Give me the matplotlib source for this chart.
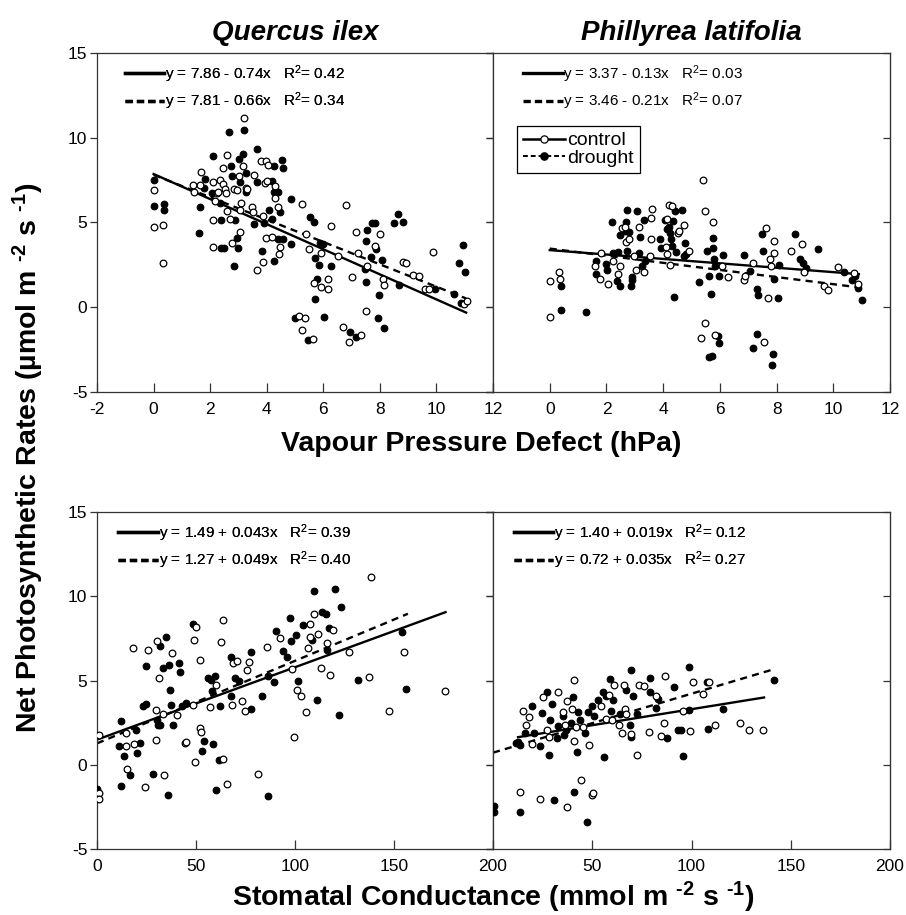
import matplotlib
matplotlib.use('Agg')
import matplotlib.pyplot as plt
from matplotlib.lines import Line2D
import numpy as np

plt.rcParams['font.family'] = ['Liberation Sans', 'DejaVu Sans']
plt.rcParams['mathtext.fontset'] = 'custom'
plt.rcParams['mathtext.rm'] = 'Liberation Sans'
plt.rcParams['mathtext.it'] = 'Liberation Sans:italic'
plt.rcParams['mathtext.bf'] = 'Liberation Sans:bold'
plt.rcParams['mathtext.sf'] = 'Liberation Sans'
plt.rcParams['axes.unicode_minus'] = False

# ---- data ----
# Quercus ilex vs VPD
qi_vpd_c_x = [0, 0, 0.34, 0.34, 1.40, 1.43, 1.64, 1.69, 2.10, 2.10, 2.11, 2.16, 2.23, 2.27, 2.35, 2.44, 2.47, 2.52, 2.58, 2.56,
              2.58, 2.70, 2.78, 2.85, 2.96, 3.01, 3.06, 3.06, 3.08, 3.15, 3.21, 3.25, 3.30, 3.47, 3.51, 3.56, 3.66, 3.80, 3.85, 3.88,
              3.93, 3.96, 3.96, 4.00, 4.06, 4.17, 4.29, 4.29, 4.40, 4.43, 4.47, 5.24, 5.14, 5.24, 5.35, 5.37, 5.49, 5.63, 5.66, 5.92,
              5.92, 6.15, 6.15, 6.28, 6.53, 6.68, 6.80, 6.92, 7.01, 7.17, 7.23, 7.32, 7.51, 7.54, 7.81, 8.01, 8.11, 8.13, 8.81, 8.93,
              9.17, 9.39, 9.60, 9.72, 9.89, 10.99, 11.07]
qi_vpd_c_y = [6.90, 4.73, 4.85, 2.60, 7.20, 6.80, 7.20, 7.99, 7.36, 5.15, 3.57, 6.27, 6.73, 6.77, 7.51, 8.19, 7.26, 6.96, 8.97, 6.71,
              5.68, 5.23, 3.81, 6.96, 6.90, 7.75, 5.72, 4.44, 6.17, 8.34, 11.14, 7.06, 6.96, 5.94, 5.64, 7.81, 2.17, 8.60, 2.66, 5.38,
              7.32, 8.64, 4.10, 7.46, 8.38, 4.14, 7.16, 6.43, 5.94, 3.12, 3.57, 6.11, -0.53, -1.32, -0.63, 4.34, 3.45, -1.85, 1.44, 1.20,
              3.18, 1.68, 1.08, 4.79, 3.02, -1.16, 6.04, -2.05, 1.78, 4.46, 3.18, -1.62, -0.24, 2.43, 3.61, 4.34, 1.64, 1.30, 2.66, 2.62,
              1.93, 1.87, 1.05, 1.08, 3.25, 0.22, 0.36]
qi_vpd_d_x = [0, 0, 0.35, 0.35, 1.62, 1.64, 1.77, 1.80, 2.09, 2.08, 2.34, 2.40, 2.40, 2.50, 2.66, 2.75, 2.76, 2.85, 2.89, 2.96,
              2.99, 3.01, 3.04, 3.16, 3.21, 3.26, 3.27, 3.55, 3.66, 3.64, 3.83, 3.90, 4.07, 4.18, 4.18, 4.26, 4.27, 4.27, 4.38, 4.41,
              4.47, 4.55, 4.57, 4.59, 4.86, 4.85, 5.01, 5.47, 5.54, 5.66, 5.71, 5.71, 5.78, 5.85, 5.88, 6.00, 6.02, 6.27, 6.96, 7.17,
              7.49, 7.52, 7.52, 7.54, 7.67, 7.73, 7.84, 7.87, 7.93, 7.97, 8.08, 8.13, 8.51, 8.67, 8.65, 8.80, 9.96, 10.63, 10.79, 10.85,
              10.94, 11.02]
qi_vpd_d_y = [7.51, 5.98, 6.07, 5.74, 4.40, 5.92, 7.02, 7.55, 8.93, 6.71, 6.17, 5.15, 3.51, 3.51, 10.32, 8.34, 7.75, 2.43, 5.15, 4.10,
              3.51, 8.74, 7.36, 9.03, 10.45, 7.91, 6.80, 4.89, 9.33, 7.40, 3.31, 4.99, 5.74, 7.46, 5.23, 2.70, 6.77, 8.34, 4.04, 6.77,
              5.62, 8.68, 8.24, 4.04, 3.71, 6.37, -0.63, -1.91, 5.35, 5.03, 2.92, 0.49, 1.68, 2.52, 3.77, 3.71, -0.57, 2.43, -1.48, -1.76,
              2.27, 3.91, 1.48, 4.54, 2.96, 4.99, 4.99, 3.45, -0.63, 0.75, 2.76, -1.22, 4.95, 1.30, 5.48, 5.03, 1.10, 0.81, 2.62, 0.26,
              3.65, 2.07]

# Phillyrea latifolia vs VPD
pl_vpd_c_x = [0, 0, 0.34, 0.35, 1.58, 1.78, 1.80, 2.05, 2.22, 2.41, 2.49, 2.55, 2.66, 2.69, 2.81, 2.96, 3.05, 3.15, 3.33, 3.52,
              3.58, 3.58, 3.61, 4.10, 4.13, 4.15, 4.19, 4.25, 4.30, 4.53, 4.55, 4.75, 4.91, 5.40, 5.47, 5.33, 5.48, 5.77, 5.83, 6.09,
              6.30, 6.85, 6.89, 7.16, 7.54, 7.61, 7.69, 7.77, 7.80, 7.89, 7.90, 8.50, 8.89, 8.96, 9.68, 9.82, 10.18, 10.73, 10.88]
pl_vpd_c_y = [1.56, -0.55, 2.06, 1.66, 2.41, 1.66, 3.20, 1.36, 2.71, 1.98, 2.41, 4.70, 4.74, 3.85, 4.05, 3.00, 2.21, 4.74, 2.06, 3.04,
              4.05, 5.24, 5.77, 3.56, 5.18, 3.16, 6.01, 2.47, 5.95, 4.39, 4.51, 4.88, 3.34, 7.49, -0.91, -1.84, 5.67, 5.04, -1.64, 2.41,
              1.78, 1.62, 1.86, 2.61, -2.07, 4.66, 0.57, 2.85, 2.41, 3.91, 3.20, 3.30, 3.73, 2.06, 1.23, 1.03, 2.35, 2.02, 1.36]
pl_vpd_d_x = [0.38, 0.38, 1.28, 1.63, 1.63, 2.00, 2.02, 2.18, 2.22, 2.41, 2.37, 2.49, 2.49, 2.66, 2.70, 2.73, 2.78, 2.73, 2.90, 2.85,
              2.91, 3.08, 3.14, 3.19, 3.25, 3.31, 3.35, 3.87, 3.93, 4.07, 4.13, 4.19, 4.25, 4.27, 4.30, 4.34, 4.37, 4.42, 4.44, 4.66,
              4.72, 4.78, 4.81, 5.25, 5.54, 5.60, 5.68, 5.63, 5.71, 5.75, 5.77, 5.80, 5.83, 5.93, 5.96, 5.96, 6.10, 6.85, 7.07, 7.18,
              7.30, 7.33, 7.32, 7.49, 7.51, 7.86, 7.83, 7.92, 8.05, 8.10, 8.66, 8.83, 8.92, 9.04, 9.45, 10.38, 10.65, 10.77, 10.88, 11.00]
pl_vpd_d_y = [1.26, -0.16, -0.26, 2.71, 1.98, 2.55, 2.21, 5.04, 3.20, 3.24, 1.56, 1.23, 4.27, 4.47, 5.04, 5.73, 4.43, 3.34, 1.78, 1.23,
              1.58, 5.65, 3.20, 4.17, 2.41, 5.16, 2.71, 4.05, 3.50, 5.12, 4.64, 4.76, 4.39, 4.05, 3.61, 5.08, 0.59, 5.65, 3.24, 5.73,
              3.00, 3.79, 3.16, 1.48, 3.30, 1.86, 0.79, -2.92, -2.88, 4.09, 3.50, 2.85, 2.41, -1.68, -2.09, 1.86, 3.10, 3.10, 2.11, -2.43,
              1.07, 0.73, -1.58, 4.31, 3.30, -2.77, -3.40, 1.68, 0.53, 2.51, 4.31, 2.85, 2.63, 2.31, 3.44, 2.06, 1.62, 1.82, 1.11, 0.43]

# Quercus ilex vs stomatal conductance
qi_gs_c_x = [1.0, 1.0, 1.0, 14.4, 14.8, 15.1, 18.1, 18.8, 24.2, 25.5, 29.6, 29.6, 30.2, 31.1, 33.3, 33.9, 37.8, 40.3, 44.2, 45.0,
             48.7, 49.1, 49.4, 50.1, 52.1, 52.2, 52.6, 57.3, 60.0, 62.7, 63.5, 63.5, 65.8, 68.4, 68.9, 70.7, 73.1, 74.8, 75.9, 76.6,
             81.5, 85.7, 92.4, 98.3, 99.6, 101.1, 103.0, 105.3, 106.7, 107.5, 107.8, 109.5, 111.7, 112.9, 115.9, 117.9, 119.3, 127.3,
             137.6, 138.6, 147.3, 154.9, 175.9]
qi_gs_c_y = [1.78, -1.66, -2.05, 1.11, 1.90, -0.24, 6.91, 1.24, -1.30, 6.79, 3.24, 1.46, 7.32, 5.13, 3.04, -0.63, 6.63, 2.96, 1.30, 1.34,
             3.53, 7.38, 0.16, 8.17, 6.24, 2.17, 1.93, 3.43, 4.76, 7.27, 8.61, 0.32, -1.16, 3.57, 6.04, 6.18, 3.77, 3.20, 5.65, 6.08,
             -0.57, 6.97, 7.52, 5.69, 1.64, 4.42, 4.11, 3.12, 6.93, 8.35, 7.56, 8.96, 7.76, 5.75, 7.23, 5.35, 7.98, 6.69,
             5.21, 11.17, 3.18, 6.67, 4.36]
qi_gs_d_x = [0, 11.1, 12.1, 12.1, 13.8, 16.8, 19.8, 20.2, 21.5, 23.2, 24.5, 24.5, 28.1, 30.2, 30.6, 31.6, 31.9, 33.3, 34.8, 35.8,
             36.1, 37.0, 37.3, 38.6, 41.2, 42.0, 42.8, 45.0, 48.4, 53.1, 54.1, 56.0, 57.4, 58.1, 58.5, 59.8, 60.1, 61.8, 62.2, 67.5,
             67.7, 69.9, 71.9, 77.6, 77.9, 83.2, 86.2, 86.2, 89.4, 90.4, 94.1, 95.8, 97.4, 97.9, 100.5, 101.6, 104.1, 108.5, 109.5,
             111.2, 113.6, 115.4, 116.2, 117.3, 120.4, 122.0, 123.0, 132.0, 154.0, 156.2]
qi_gs_d_y = [-1.46, 1.11, 2.59, -1.26, 0.55, -0.63, 2.09, 0.71, 1.30, 3.47, 3.63, 5.88, -0.57, 2.63, 2.39, 7.07, 2.39, 5.75, 7.56, -1.80,
             5.90, 4.42, 3.57, 2.35, 6.04, 5.49, 3.51, 3.67, 8.37, 0.81, 1.44, 5.15, 5.05, 4.36, 1.24, 5.25, -1.52, 0.26, 3.51, 6.39,
             4.07, 5.15, 5.00, 6.68, 3.34, 4.07, 5.25, -1.88, 4.90, 7.92, 6.77, 6.38, 8.71, 7.34, 7.72, 5.00, 8.31, 7.42, 10.33,
             3.87, 9.04, 8.94, 6.79, 8.11, 10.44, 2.96, 9.34, 5.01, 7.86, 4.50]

# Phillyrea latifolia vs stomatal conductance
pl_gs_c_x = [13.6, 15.1, 16.8, 18.2, 19.5, 23.9, 25.2, 27.2, 28.2, 32.9, 35.3, 36.1, 37.3, 37.5, 40.0, 40.7, 40.7, 42.0, 44.2, 45.4,
             48.4, 49.6, 50.4, 54.3, 57.1, 58.5, 60.0, 60.8, 63.5, 65.0, 65.9, 66.4, 66.9, 69.7, 72.6, 73.6, 76.1, 78.5, 82.0, 84.5,
             86.2, 86.7, 95.8, 99.2, 100.8, 105.6, 108.9, 112.0, 124.4, 128.7, 136.1]
pl_gs_c_y = [-1.60, 3.22, 2.39, 2.84, 1.24, -2.05, 4.01, 2.05, 1.66, 4.32, 3.12, 2.39, 3.77, -2.49, 3.32, 5.06, 1.44, 2.25, -0.91, 2.25,
             1.20, -1.82, -1.66, 3.47, 2.74, 4.17, 2.63, 4.72, 2.35, 1.90, 4.72, 3.32, 3.02, 1.80, 0.61, 4.76, 4.66, 1.95, 4.07, 1.68,
             2.45, 5.25, 3.22, 1.99, 4.92, 4.21, 4.90, 2.37, 2.49, 2.09, 2.05]
pl_gs_d_x = [0.5, 0.5, 11.4, 12.6, 13.4, 13.6, 16.0, 19.8, 20.7, 23.5, 24.9, 27.2, 28.1, 28.6, 29.9, 30.6, 32.4, 32.9, 35.0, 35.8,
             37.0, 39.5, 40.3, 40.8, 42.5, 42.9, 44.0, 46.2, 47.4, 47.9, 49.6, 50.8, 52.9, 55.5, 56.0, 57.1, 58.8, 59.3, 60.2, 64.2,
             66.9, 68.9, 69.4, 69.4, 70.3, 72.3, 79.0, 79.3, 82.0, 83.2, 87.4, 91.3, 93.3, 94.5, 95.8, 98.5, 98.8, 107.9, 108.1,
             116.0, 141.5]
pl_gs_d_y = [-2.45, -2.80, 1.30, 1.34, 1.15, -2.78, 1.90, 3.47, 1.90, 1.11, 3.08, 4.32, 0.61, 2.63, 3.63, -2.11, 1.56, 2.29, 2.88, 1.74,
             2.09, 2.49, 4.03, -1.60, 0.73, 3.12, 2.65, 1.86, -3.40, 3.16, 3.47, 2.88, 3.87, 4.32, 0.47, 4.11, 5.10, 3.20, 3.87, 3.04,
             4.42, 2.39, 1.64, 5.65, 4.11, 3.02, 5.15, 4.32, 3.38, 3.93, 1.60, 4.62, 2.09, 2.09, 0.55, 5.78, 3.26, 4.92, 2.13,
             3.34, 5.02]

# regression fits: intercept, slope, x start, x end  (control, drought)
fits_qi_vpd = [(7.86, -0.74, 0.0, 11.05), (7.81, -0.66, 0.0, 11.05)]
fits_pl_vpd = [(3.37, -0.13, 0.0, 10.9), (3.46, -0.21, 0.0, 10.9)]
fits_qi_gs = [(1.49, 0.043, 1.0, 176.0), (1.27, 0.049, 0.0, 157.0)]
fits_pl_gs = [(1.40, 0.019, 12.6, 136.5), (0.72, 0.035, 0.0, 140.0)]

eq_qi_vpd = ['y = 7.86 - 0.74x   R$^2$= 0.42', 'y = 7.81 - 0.66x   R$^2$= 0.34']
eq_pl_vpd = ['y = 3.37 - 0.13x   R$^2$= 0.03', 'y = 3.46 - 0.21x   R$^2$= 0.07']
eq_qi_gs = ['y = 1.49 + 0.043x   R$^2$= 0.39', 'y = 1.27 + 0.049x   R$^2$= 0.40']
eq_pl_gs = ['y = 1.40 + 0.019x   R$^2$= 0.12', 'y = 0.72 + 0.035x   R$^2$= 0.27']

vpd_ticks = [-2, 0, 2, 4, 6, 8, 10, 12]
gs_ticks = [0, 50, 100, 150, 200]
y_ticks = [-5, 0, 5, 10, 15]

spine_col = '#333333'


def draw_panel(ax, cx, cy, dx, dy, fits, eqs, xticks, eq_anchor, first_label=True):
    for (a, b, x0, x1), ls in zip(fits, ['-', '--']):
        xs = np.array([x0, x1])
        if ls == '-':
            ax.plot(xs, a + b * xs, color='k', lw=1.7, zorder=2)
        else:
            ax.plot(xs, a + b * xs, color='k', lw=1.7, ls=(0, (3, 2.2)), zorder=2)
    ax.plot(dx, dy, 'o', ls='none', ms=4.8, mfc='k', mec='k', mew=0.8, zorder=3)
    ax.plot(cx, cy, 'o', ls='none', ms=4.8, mfc='white', mec='k', mew=0.9, zorder=4)

    ax.set_xlim(xticks[0], xticks[-1])
    ax.set_ylim(-5, 15)
    ax.set_xticks(xticks)
    labels = [str(t) for t in xticks]
    if not first_label:
        labels[0] = ''
    ax.set_xticklabels(labels)
    ax.set_yticks(y_ticks)
    ax.tick_params(axis='x', direction='in', length=6.5, width=0.9, pad=7, labelsize=12.5, color=spine_col)
    ax.tick_params(axis='y', direction='out', length=5, width=0.9, pad=2, labelsize=12.5, color=spine_col,
                   left=True, right=False)
    sec = ax.secondary_yaxis('right')
    sec.set_yticks(y_ticks)
    sec.tick_params(direction='in', length=5, width=0.9, labelright=False, color=spine_col)
    sec.spines['right'].set_color(spine_col)
    for s in ax.spines.values():
        s.set_color(spine_col)
        s.set_linewidth(0.9)

    h = [Line2D([], [], color='k', lw=2.4),
         Line2D([], [], color='k', lw=2.4, ls=(0, (2.2, 1.2)))]
    leg = ax.legend(h, eqs, loc='upper left', bbox_to_anchor=eq_anchor, frameon=False, fontsize=11,
                    handlelength=2.6, handletextpad=0.05, borderpad=0, borderaxespad=0, labelspacing=0.38)
    ax.add_artist(leg)
    return leg


fig = plt.figure(figsize=(9.06, 9.15), dpi=100)
ax1 = fig.add_axes([0.1071, 0.5716, 0.4371, 0.3705])
ax2 = fig.add_axes([0.5442, 0.5716, 0.4382, 0.3705])
ax3 = fig.add_axes([0.1071, 0.0721, 0.4371, 0.3683])
ax4 = fig.add_axes([0.5442, 0.0721, 0.4382, 0.3683])

draw_panel(ax1, qi_vpd_c_x, qi_vpd_c_y, qi_vpd_d_x, qi_vpd_d_y, fits_qi_vpd, eq_qi_vpd, vpd_ticks, (0.07, 0.97))
draw_panel(ax2, pl_vpd_c_x, pl_vpd_c_y, pl_vpd_d_x, pl_vpd_d_y, fits_pl_vpd, eq_pl_vpd, vpd_ticks, (0.075, 0.97),
           first_label=False)
draw_panel(ax3, qi_gs_c_x, qi_gs_c_y, qi_gs_d_x, qi_gs_d_y, fits_qi_gs, eq_qi_gs, gs_ticks, (0.053, 0.97))
draw_panel(ax4, pl_gs_c_x, pl_gs_c_y, pl_gs_d_x, pl_gs_d_y, fits_pl_gs, eq_pl_gs, gs_ticks, (0.052, 0.97),
           first_label=False)

for ax in (ax2, ax4):
    ax.set_yticklabels([])

# treatment legend
th = [Line2D([], [], color='k', lw=1.8, marker='o', ms=5.2, mfc='white', mec='k', mew=0.9),
      Line2D([], [], color='k', lw=1.4, ls=(0, (2.5, 1.5)), marker='o', ms=5.2, mfc='k', mec='k')]
tleg = ax2.legend(th, ['control', 'drought'], loc='upper left', bbox_to_anchor=(0.06, 0.785), fontsize=14,
                  numpoints=1, handlelength=2.2, handletextpad=0.1, labelspacing=0.0, borderpad=0.3,
                  borderaxespad=0, fancybox=False, edgecolor='k', framealpha=1)
tleg.get_frame().set_linewidth(0.9)

ax1.set_title('Quercus ilex', fontsize=20, fontweight='bold', fontstyle='italic', pad=9)
ax2.set_title('Phillyrea latifolia', fontsize=20, fontweight='bold', fontstyle='italic', pad=9)

sup_m2 = r'$^{\mathbf{\u2010 2}}$'.replace(r'\u2010 ', '\u2010')
sup_m1 = r'$^{\mathbf{\u2010 1}}$'.replace(r'\u2010 ', '\u2010')

fig.text(0.531, 1 - 444 / 915, 'Vapour Pressure Defect (hPa)', ha='center', va='center', fontsize=20.5,
         fontweight='bold')
fig.text(0.545, 1 - 897 / 915, 'Stomatal Conductance (mmol m ' + sup_m2 + ' s ' + sup_m1 + ')', ha='center',
         va='center', fontsize=20.5, fontweight='bold')
fig.text(0.031, 0.5, 'Net Photosynthetic Rates (µmol m ' + sup_m2 + ' s ' + sup_m1 + ')', ha='center',
         va='center', rotation=90, fontsize=20.5, fontweight='bold')

fig.savefig('out.png', dpi=100)
